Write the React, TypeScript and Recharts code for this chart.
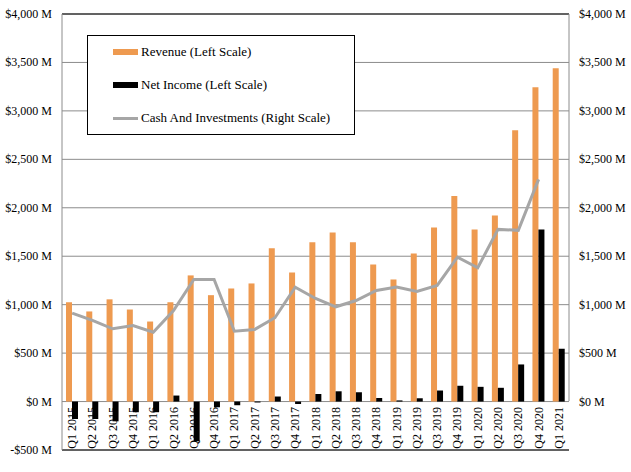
import React from "react";
import {
  ComposedChart,
  Bar,
  Line,
  XAxis,
  YAxis,
  CartesianGrid,
  ReferenceLine,
  Legend,
} from "recharts";

const ORANGE = "#EE9A50";
const GREY_LINE = "#A6A6A6";
const GRID = "#8C8C8C";
const FONT = "'Liberation Serif', 'Times New Roman', serif";

const quarters = [
  "Q1 2015", "Q2 2015", "Q3 2015", "Q4 2015",
  "Q1 2016", "Q2 2016", "Q3 2016", "Q4 2016",
  "Q1 2017", "Q2 2017", "Q3 2017", "Q4 2017",
  "Q1 2018", "Q2 2018", "Q3 2018", "Q4 2018",
  "Q1 2019", "Q2 2019", "Q3 2019", "Q4 2019",
  "Q1 2020", "Q2 2020", "Q3 2020", "Q4 2020",
  "Q1 2021",
];

const revenue = [
  1025, 930, 1055, 950, 826, 1025, 1302, 1098, 1167, 1219, 1581, 1333,
  1643, 1746, 1643, 1415, 1260, 1529, 1797, 2121, 1777, 1921, 2800, 3244,
  3440,
];

const netIncome = [
  -180, -180, -204, -110, -110, 62, -410, -59, -38, -10, 52, -25,
  78, 106, 96, 37, 12, 34, 114, 163, 152, 142, 383, 1777,
  545,
];

// right scale, last quarter not reported
const cash = [
  912, 837, 751, 785, 716, 940, 1260, 1260, 726, 744, 865, 1181,
  1064, 978, 1043, 1147, 1181, 1136, 1198, 1490, 1381, 1777, 1767, 2293,
  null,
];

const leftTicks = [-500, 0, 500, 1000, 1500, 2000, 2500, 3000, 3500, 4000];
const rightTicks = [0, 500, 1000, 1500, 2000, 2500, 3000, 3500, 4000];

const data = quarters.map((q, i) => ({
  q,
  revenue: revenue[i],
  netIncome: netIncome[i],
  cash: cash[i],
}));

const fmt = (v: number) =>
  (v < 0 ? "-$" : "$") + Math.abs(v).toLocaleString("en-US") + " M";

function QuarterTick(props: any) {
  const { x, y, payload } = props;
  return (
    <text
      transform={`translate(${x},${y - 45}) rotate(-90)`}
      textAnchor="end"
      dominantBaseline="central"
      fontFamily={FONT}
      fontSize={12}
      fill="#000"
    >
      {payload.value}
    </text>
  );
}

function MoneyTick(props: any) {
  const { x, y, payload, anchor } = props;
  return (
    <text
      x={x}
      y={y}
      textAnchor={anchor}
      dominantBaseline="central"
      fontFamily={FONT}
      fontSize={12}
      fill="#000"
    >
      {fmt(payload.value)}
    </text>
  );
}

function LegendBox() {
  const items = [
    { label: "Revenue (Left Scale)", color: ORANGE, h: 6 },
    { label: "Net Income (Left Scale)", color: "#000", h: 6 },
    { label: "Cash And Investments (Right Scale)", color: GREY_LINE, h: 3 },
  ];
  return (
    <div
      style={{
        width: 266,
        height: 98,
        border: "1px solid #000",
        background: "#fff",
        fontFamily: FONT,
        fontSize: 13,
        color: "#000",
        boxSizing: "content-box",
      }}
    >
      {items.map((it, i) => (
        <div
          key={it.label}
          style={{
            position: "absolute",
            left: 26,
            top: 9 + i * 33,
            display: "flex",
            alignItems: "center",
            height: 16,
            whiteSpace: "nowrap",
          }}
        >
          <span
            style={{
              display: "inline-block",
              width: 25,
              height: it.h,
              background: it.color,
              marginRight: 3,
            }}
          />
          {it.label}
        </div>
      ))}
    </div>
  );
}

export default function App() {
  return (
    <div style={{ position: "absolute", left: 0, top: 0, background: "#fff" }}>
      <ComposedChart
        width={631}
        height={472}
        data={data}
        margin={{ top: 14, right: 0, bottom: 0, left: 0 }}
        barGap={0}
      >
        <CartesianGrid
          yAxisId="left"
          vertical={false}
          stroke={GRID}
          strokeWidth={1}
        />
        <XAxis
          dataKey="q"
          height={22}
          axisLine={false}
          tickLine={false}
          tickSize={0}
          interval={0}
          tick={<QuarterTick />}
        />
        <YAxis
          yAxisId="left"
          width={62}
          domain={[-500, 4000]}
          ticks={leftTicks}
          axisLine={{ stroke: GRID }}
          tickLine={false}
          tickSize={0}
          tickMargin={10}
          tick={<MoneyTick anchor="end" />}
        />
        <YAxis
          yAxisId="right"
          orientation="right"
          width={62}
          domain={[-500, 4000]}
          ticks={rightTicks}
          axisLine={{ stroke: GRID, strokeDasharray: "387 200" }}
          tickLine={false}
          tickSize={0}
          tickMargin={10}
          tick={<MoneyTick anchor="start" />}
        />
        <ReferenceLine yAxisId="left" y={4000} stroke="#000" />
        <ReferenceLine yAxisId="left" y={-500} stroke="#000" />
        <Bar
          yAxisId="left"
          dataKey="revenue"
          fill={ORANGE}
          barSize={6}
          isAnimationActive={false}
        />
        <Bar
          yAxisId="left"
          dataKey="netIncome"
          fill="#000"
          barSize={6}
          isAnimationActive={false}
        />
        <Line
          yAxisId="right"
          dataKey="cash"
          stroke={GREY_LINE}
          strokeWidth={3}
          dot={false}
          activeDot={false}
          isAnimationActive={false}
        />
        <Legend
          layout="vertical"
          align="center"
          verticalAlign="middle"
          content={() => <LegendBox />}
          wrapperStyle={{ left: 87, top: 35, width: 268, height: 100 }}
        />
      </ComposedChart>
    </div>
  );
}
